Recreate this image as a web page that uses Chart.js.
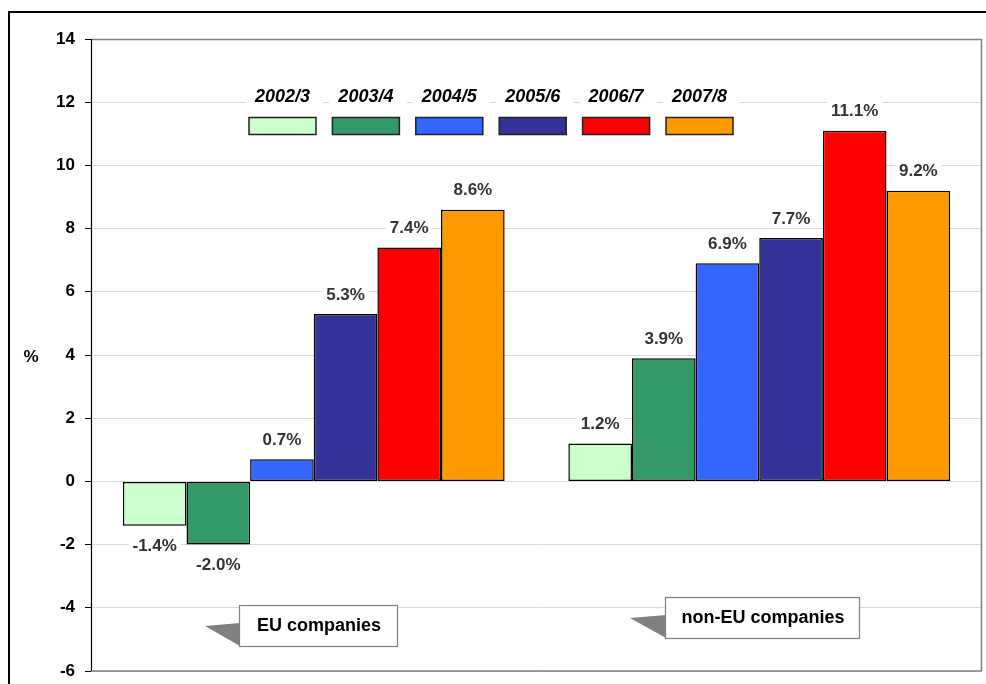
<!DOCTYPE html>
<html>
<head>
<meta charset="utf-8">
<script src="https://cdn.jsdelivr.net/npm/chart.js@4.4.0/dist/chart.umd.min.js"></script>
<style>
    html, body { margin: 0; padding: 0; background: #fff; }
    #wrap { width: 986px; height: 684px; }
</style>
</head>
<body>
<div id="wrap"><canvas id="growthChart" width="986" height="684"></canvas></div>
<script>
// Categories and series
const groups = ['EU companies', 'non-EU companies'];
const years = ['2002/3', '2003/4', '2004/5', '2005/6', '2006/7', '2007/8'];
const eu = [-1.4, -2.0, 0.7, 5.3, 7.4, 8.6];
const nonEu = [1.2, 3.9, 6.9, 7.7, 11.1, 9.2];
const yTicks = [-6, -4, -2, 0, 2, 4, 6, 8, 10, 12, 14];

const colors = ['#ccffcc', '#339966', '#3366ff', '#333399', '#ff0000', '#ff9900'];

const datasets = years.map((y, i) => ({
    label: y,
    data: [eu[i], nonEu[i]],
    backgroundColor: colors[i],
    borderColor: '#000',
    borderWidth: 1.5,
    borderSkipped: false,
    barPercentage: 1,
    categoryPercentage: 0.857
}));

// Frame, axis title, data labels, legend and callouts
const decorPlugin = {
    id: 'decor',
    beforeDraw(chart) {
        const ctx = chart.ctx;
        ctx.save();
        ctx.fillStyle = '#fff';
        ctx.fillRect(0, 0, chart.width, chart.height);
        ctx.restore();
    },
    afterDraw(chart) {
        const ctx = chart.ctx;
        const a = chart.chartArea;
        ctx.save();

        // plot border
        ctx.strokeStyle = '#808080';
        ctx.lineWidth = 1.5;
        ctx.beginPath();
        ctx.moveTo(a.left, a.top + 0.5);
        ctx.lineTo(a.right - 0.5, a.top + 0.5);
        ctx.lineTo(a.right - 0.5, a.bottom);
        ctx.moveTo(a.left, a.bottom);
        ctx.lineTo(a.right, a.bottom);
        ctx.stroke();
        ctx.strokeStyle = '#000';
        ctx.lineWidth = 1.2;
        ctx.beginPath();
        ctx.moveTo(a.left + 0.5, a.top);
        ctx.lineTo(a.left + 0.5, a.bottom);
        ctx.stroke();

        // outer frame
        ctx.lineWidth = 2;
        ctx.strokeRect(9, 12, chart.width + 20, chart.height + 20);

        // "%" axis title
        ctx.fillStyle = '#000';
        ctx.font = 'bold 17px Arial, "Liberation Sans"';
        ctx.textAlign = 'center';
        ctx.textBaseline = 'middle';
        ctx.fillText('%', 31, 357);

        // data labels (white box behind, like the original)
        ctx.font = 'bold 17px Arial, "Liberation Sans"';
        chart.data.datasets.forEach((ds, di) => {
            const meta = chart.getDatasetMeta(di);
            meta.data.forEach((bar, i) => {
                const v = ds.data[i];
                const txt = v.toFixed(1) + '%';
                const y = v >= 0 ? bar.y - 20 : bar.y + 20;
                const w = ctx.measureText(txt).width;
                ctx.fillStyle = '#fff';
                ctx.fillRect(bar.x - w / 2 - 4, y - 9, w + 8, 18);
                ctx.fillStyle = '#333';
                ctx.fillText(txt, bar.x, y + 1);
            });
        });

        // legend
        const lx0 = 249, step = 83.4, bw = 67;
        chart.data.datasets.forEach((ds, di) => {
            const x = lx0 + di * step;
            ctx.fillStyle = '#fff';
            ctx.fillRect(x - 3, 87, bw + 10, 20);
            ctx.fillStyle = '#000';
            ctx.font = 'italic bold 18px Arial, "Liberation Sans"';
            ctx.textAlign = 'center';
            ctx.fillText(ds.label, x + bw / 2, 97);
            ctx.fillStyle = ds.backgroundColor;
            ctx.fillRect(x, 117.5, bw, 17);
            ctx.strokeStyle = '#222';
            ctx.lineWidth = 1.5;
            ctx.strokeRect(x, 117.5, bw, 17);
        });

        // callouts
        const callouts = [
            { text: groups[0], x: 239, y: 605, w: 158, h: 41, tip: [205, 626] },
            { text: groups[1], x: 665, y: 597, w: 194, h: 41, tip: [630, 618] }
        ];
        callouts.forEach(c => {
            ctx.fillStyle = '#808080';
            ctx.beginPath();
            ctx.moveTo(c.tip[0], c.tip[1]);
            ctx.lineTo(c.x + 1, c.tip[1] - 3);
            ctx.lineTo(c.x + 1, c.y + c.h);
            ctx.closePath();
            ctx.fill();
            ctx.fillStyle = '#fff';
            ctx.fillRect(c.x, c.y, c.w, c.h);
            ctx.strokeStyle = '#808080';
            ctx.lineWidth = 1.2;
            ctx.strokeRect(c.x + 0.5, c.y + 0.5, c.w, c.h);
            ctx.fillStyle = '#000';
            ctx.font = 'bold 18px Arial, "Liberation Sans"';
            ctx.textAlign = 'center';
            ctx.textBaseline = 'middle';
            ctx.fillText(c.text, c.x + c.w / 2 + 1, c.y + c.h / 2 + 1);
        });

        ctx.restore();
    }
};

new Chart(document.getElementById('growthChart'), {
    type: 'bar',
    data: {
        labels: groups,
        datasets: datasets
    },
    options: {
        responsive: false,
        animation: false,
        layout: {
            padding: { left: 8, top: 39, right: 4, bottom: 13 }
        },
        plugins: {
            legend: { display: false },
            tooltip: { enabled: false }
        },
        scales: {
            x: {
                display: false
            },
            y: {
                min: -6,
                max: 14,
                afterFit: function(scale) {
                    scale.width = 83;
                    // let layout padding alone decide the plot's top and bottom
                    scale.paddingTop = 0;
                    scale.paddingBottom = 0;
                },
                afterBuildTicks: function(scale) {
                    scale.ticks = yTicks.map(v => ({ value: v }));
                },
                border: { display: false },
                grid: {
                    color: '#d9d9d9',
                    lineWidth: 1,
                    tickLength: 6,
                    tickColor: '#000',
                    drawOnChartArea: true
                },
                ticks: {
                    color: '#000',
                    padding: 10,
                    font: { family: 'Arial, "Liberation Sans"', size: 17, weight: 'bold' }
                }
            }
        }
    },
    plugins: [decorPlugin]
});
</script>
</body>
</html>
